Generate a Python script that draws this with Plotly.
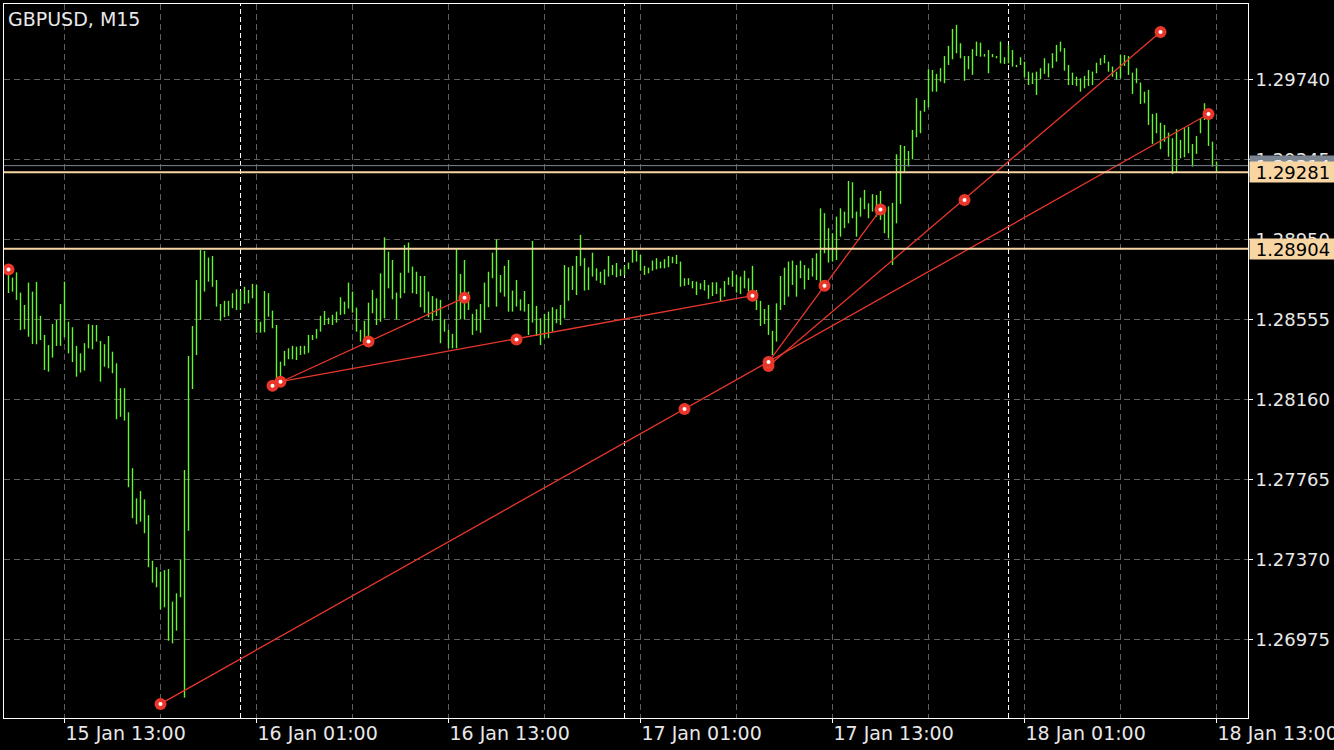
import pandas as pd
import plotly.graph_objects as go

# ---------------- data ----------------
symbol_title = "GBPUSD, M15"
first_bar = "2019-01-15 09:30"
bar_freq = "15min"

highs = [
    1.28809, 1.28761, 1.28787, 1.28687, 1.28626, 1.28736, 1.28692, 1.28740, 1.28572, 1.28478,
    1.28428, 1.28532, 1.28552, 1.28631, 1.28741, 1.28543, 1.28516, 1.28424, 1.28387, 1.28437,
    1.28531, 1.28527, 1.28527, 1.28448, 1.28432, 1.28473, 1.28395, 1.28338, 1.28215, 1.28215,
    1.28096, 1.27820, 1.27671, 1.27707, 1.27666, 1.27588, 1.27363, 1.27331, 1.27309, 1.27317,
    1.27322, 1.27161, 1.27202, 1.27370, 1.27811, 1.28374, 1.28522, 1.28749, 1.28898, 1.28893,
    1.28860, 1.28868, 1.28749, 1.28631, 1.28646, 1.28646, 1.28684, 1.28703, 1.28695, 1.28716,
    1.28700, 1.28730, 1.28725, 1.28543, 1.28695, 1.28684, 1.28598, 1.28527, 1.28346, 1.28399,
    1.28412, 1.28424, 1.28420, 1.28424, 1.28424, 1.28478, 1.28478, 1.28507, 1.28572, 1.28596,
    1.28563, 1.28577, 1.28593, 1.28664, 1.28642, 1.28736, 1.28692, 1.28613, 1.28503, 1.28548,
    1.28637, 1.28700, 1.28659, 1.28782, 1.28960, 1.28889, 1.28848, 1.28687, 1.28785, 1.28922,
    1.28934, 1.28815, 1.28790, 1.28769, 1.28769, 1.28692, 1.28670, 1.28659, 1.28651, 1.28555,
    1.28503, 1.28483, 1.28901, 1.28779, 1.28848, 1.28692, 1.28582, 1.28605, 1.28631, 1.28736,
    1.28790, 1.28884, 1.28950, 1.28774, 1.28819, 1.28848, 1.28697, 1.28749, 1.28654, 1.28695,
    1.28631, 1.28942, 1.28621, 1.28560, 1.28582, 1.28593, 1.28615, 1.28605, 1.28626, 1.28823,
    1.28812, 1.28819, 1.28868, 1.28972, 1.28857, 1.28812, 1.28884, 1.28807, 1.28790, 1.28802,
    1.28868, 1.28823, 1.28833, 1.28802, 1.28819, 1.28835, 1.28898, 1.28894, 1.28873, 1.28819,
    1.28810, 1.28845, 1.28857, 1.28840, 1.28852, 1.28868, 1.28864, 1.28873, 1.28840, 1.28758,
    1.28758, 1.28744, 1.28741, 1.28733, 1.28749, 1.28725, 1.28738, 1.28738, 1.28708, 1.28744,
    1.28763, 1.28795, 1.28774, 1.28766, 1.28795, 1.28758, 1.28819, 1.28700, 1.28646, 1.28606,
    1.28626, 1.28498, 1.28634, 1.28769, 1.28810, 1.28840, 1.28845, 1.28823, 1.28845, 1.28823,
    1.28807, 1.28857, 1.28881, 1.29103, 1.29079, 1.29005, 1.28980, 1.29062, 1.29103, 1.29087,
    1.29238, 1.29232, 1.29087, 1.29156, 1.29194, 1.29128, 1.29173, 1.29169, 1.29189, 1.29115,
    1.29113, 1.29130, 1.29370, 1.29416, 1.29411, 1.29386, 1.29490, 1.29647, 1.29585, 1.29638,
    1.29790, 1.29786, 1.29767, 1.29795, 1.29855, 1.29905, 1.29989, 1.30009, 1.29918, 1.29855,
    1.29855, 1.29889, 1.29926, 1.29921, 1.29865, 1.29885, 1.29865, 1.29855, 1.29926, 1.29849,
    1.29910, 1.29885, 1.29811, 1.29849, 1.29827, 1.29778, 1.29773, 1.29778, 1.29795, 1.29844,
    1.29819, 1.29869, 1.29910, 1.29926, 1.29894, 1.29811, 1.29773, 1.29753, 1.29745, 1.29757,
    1.29786, 1.29778, 1.29822, 1.29844, 1.29860, 1.29827, 1.29803, 1.29778, 1.29860, 1.29860,
    1.29855, 1.29773, 1.29795, 1.29724, 1.29679, 1.29688, 1.29569, 1.29573, 1.29526, 1.29515,
    1.29477, 1.29449, 1.29494, 1.29441, 1.29499, 1.29506, 1.29421, 1.29460, 1.29548, 1.29622,
    1.29573, 1.29432, 1.29334,
]

lows = [
    1.28685, 1.28692, 1.28651, 1.28502, 1.28506, 1.28469, 1.28433, 1.28432, 1.28453, 1.28305,
    1.28297, 1.28366, 1.28424, 1.28424, 1.28466, 1.28387, 1.28344, 1.28272, 1.28292, 1.28302,
    1.28412, 1.28407, 1.28445, 1.28247, 1.28321, 1.28313, 1.28289, 1.28062, 1.28074, 1.28055,
    1.27726, 1.27573, 1.27543, 1.27556, 1.27499, 1.27331, 1.27255, 1.27232, 1.27123, 1.27133,
    1.26968, 1.26955, 1.27018, 1.27183, 1.26687, 1.27511, 1.28211, 1.28379, 1.28552, 1.28692,
    1.28741, 1.28716, 1.28618, 1.28548, 1.28565, 1.28572, 1.28610, 1.28601, 1.28601, 1.28631,
    1.28634, 1.28659, 1.28489, 1.28489, 1.28491, 1.28568, 1.28511, 1.28247, 1.28256, 1.28325,
    1.28358, 1.28358, 1.28354, 1.28379, 1.28382, 1.28390, 1.28453, 1.28460, 1.28494, 1.28527,
    1.28531, 1.28527, 1.28539, 1.28577, 1.28580, 1.28608, 1.28588, 1.28494, 1.28445, 1.28456,
    1.28456, 1.28585, 1.28527, 1.28543, 1.28560, 1.28708, 1.28654, 1.28555, 1.28659, 1.28684,
    1.28785, 1.28684, 1.28680, 1.28615, 1.28588, 1.28565, 1.28548, 1.28572, 1.28437, 1.28494,
    1.28412, 1.28412, 1.28412, 1.28555, 1.28555, 1.28601, 1.28478, 1.28499, 1.28489, 1.28552,
    1.28615, 1.28758, 1.28618, 1.28687, 1.28667, 1.28593, 1.28593, 1.28618, 1.28598, 1.28593,
    1.28478, 1.28539, 1.28473, 1.28428, 1.28462, 1.28462, 1.28494, 1.28536, 1.28527, 1.28560,
    1.28647, 1.28700, 1.28675, 1.28819, 1.28697, 1.28700, 1.28766, 1.28746, 1.28733, 1.28725,
    1.28766, 1.28774, 1.28763, 1.28769, 1.28774, 1.28802, 1.28835, 1.28840, 1.28795, 1.28774,
    1.28782, 1.28795, 1.28802, 1.28807, 1.28807, 1.28812, 1.28832, 1.28828, 1.28716, 1.28720,
    1.28725, 1.28708, 1.28675, 1.28703, 1.28697, 1.28656, 1.28670, 1.28680, 1.28642, 1.28667,
    1.28725, 1.28716, 1.28687, 1.28680, 1.28708, 1.28692, 1.28670, 1.28601, 1.28522, 1.28532,
    1.28478, 1.28379, 1.28445, 1.28601, 1.28626, 1.28667, 1.28725, 1.28667, 1.28758, 1.28703,
    1.28749, 1.28766, 1.28749, 1.28725, 1.28881, 1.28835, 1.28840, 1.28848, 1.28963, 1.29005,
    1.29029, 1.29054, 1.28963, 1.29062, 1.29099, 1.29054, 1.29087, 1.29062, 1.29046, 1.28980,
    1.28955, 1.28823, 1.29029, 1.29125, 1.29284, 1.29309, 1.29345, 1.29454, 1.29474, 1.29580,
    1.29602, 1.29679, 1.29679, 1.29729, 1.29721, 1.29811, 1.29839, 1.29869, 1.29844, 1.29733,
    1.29790, 1.29762, 1.29855, 1.29852, 1.29852, 1.29770, 1.29849, 1.29844, 1.29819, 1.29816,
    1.29819, 1.29803, 1.29800, 1.29811, 1.29750, 1.29712, 1.29717, 1.29663, 1.29740, 1.29767,
    1.29750, 1.29795, 1.29827, 1.29877, 1.29783, 1.29712, 1.29712, 1.29707, 1.29679, 1.29696,
    1.29707, 1.29712, 1.29770, 1.29811, 1.29819, 1.29778, 1.29753, 1.29740, 1.29745, 1.29806,
    1.29762, 1.29668, 1.29721, 1.29618, 1.29622, 1.29515, 1.29421, 1.29474, 1.29395, 1.29432,
    1.29358, 1.29273, 1.29279, 1.29350, 1.29355, 1.29375, 1.29309, 1.29372, 1.29474, 1.29539,
    1.29411, 1.29309, 1.29284,
]

# trend lines: (times, prices) of their anchor dots
trend_lines = [
    (["2019-01-16 02:00", "2019-01-16 08:00", "2019-01-16 14:00"], [1.28227, 1.28445, 1.28662]),
    (["2019-01-16 02:30", "2019-01-16 17:15", "2019-01-17 08:00"], [1.28247, 1.28455, 1.28672]),
    (["2019-01-15 19:00", "2019-01-17 03:45", "2019-01-18 12:30"], [1.26656, 1.28112, 1.29569]),
    (["2019-01-17 09:00", "2019-01-17 21:15", "2019-01-18 09:30"], [1.28325, 1.29144, 1.29974]),
    (["2019-01-17 09:00", "2019-01-17 12:30", "2019-01-17 16:00"], [1.28344, 1.28721, 1.29097]),
    (["2019-01-15 09:30"], [1.28801]),
]

level_prices = [1.29281, 1.28904]
bid_price = 1.29314
day_breaks = ["2019-01-16 00:00", "2019-01-17 00:00", "2019-01-18 00:00"]

x_tick_vals = ["2019-01-15 13:00", "2019-01-16 01:00", "2019-01-16 13:00", "2019-01-17 01:00",
               "2019-01-17 13:00", "2019-01-18 01:00", "2019-01-18 13:00"]
x_tick_text = ["15 Jan 13:00", "16 Jan 01:00", "16 Jan 13:00", "17 Jan 01:00",
               "17 Jan 13:00", "18 Jan 01:00", "18 Jan 13:00"]
y_tick_vals = [1.26975, 1.27370, 1.27765, 1.28160, 1.28555, 1.28950, 1.29345, 1.29740]
y_tick_text = ["1.26975", "1.27370", "1.27765", "1.28160", "1.28555", "1.28950", "1.29345", "1.29740"]

x_range = ["2019-01-15 09:13:07.5", "2019-01-18 14:58:07.5"]
y_range = [1.265865, 1.301120]

# ---------------- styles ----------------
FONT = "DejaVu Sans"
BAR_GREEN = "#66f52c"
RED = "#e8372a"
GRID = "#5e5e5e"
LEVEL = "#f8d6a4"
BID = "#7a8591"
TEXT = "#e8e8e8"

times = pd.date_range(first_bar, periods=len(highs), freq=bar_freq)

bx, by = [], []
for t, h, l in zip(times, highs, lows):
    bx += [t, t, None]
    by += [l, h, None]

fig = go.Figure()
fig.add_trace(go.Scatter(x=bx, y=by, mode="lines",
                         line=dict(color=BAR_GREEN, width=1.4), hoverinfo="skip"))

for tx, ty in trend_lines:
    fig.add_trace(go.Scatter(x=[tx[0], tx[-1]], y=[ty[0], ty[-1]], mode="lines",
                             line=dict(color=RED, width=1.3), hoverinfo="skip"))
for tx, ty in trend_lines:
    fig.add_trace(go.Scatter(x=tx, y=ty, mode="markers",
                             marker=dict(color=RED, size=12, line=dict(width=0)), hoverinfo="skip"))
    fig.add_trace(go.Scatter(x=tx, y=ty, mode="markers",
                             marker=dict(color="white", size=4, line=dict(width=0)), hoverinfo="skip"))

shapes = []
for d in day_breaks:
    shapes.append(dict(type="line", xref="x", yref="paper", x0=d, x1=d, y0=0, y1=1,
                       line=dict(color="white", width=1, dash="5px,3px"), layer="below"))
shapes.append(dict(type="line", xref="paper", yref="y", x0=0, x1=1, y0=bid_price, y1=bid_price,
                   line=dict(color=BID, width=1)))
for p in level_prices:
    shapes.append(dict(type="line", xref="paper", yref="y", x0=0, x1=1, y0=p, y1=p,
                       line=dict(color=LEVEL, width=2)))

annotations = [
    dict(xref="paper", yref="y", x=1, y=bid_price, xanchor="left", yanchor="middle",
         xshift=1, text=" " + f"{bid_price:.5f}", showarrow=False, align="left",
         font=dict(family=FONT, size=18, color="#f0f0f0"), bgcolor=BID,
         width=86, height=20, borderpad=0),
]
for p in level_prices:
    annotations.append(dict(xref="paper", yref="y", x=1, y=p, xanchor="left", yanchor="middle",
                            xshift=1, text=" " + f"{p:.5f}", showarrow=False, align="left",
                            font=dict(family=FONT, size=18, color="#000000"), bgcolor=LEVEL,
                            width=86, height=20, borderpad=0))

fig.update_layout(
    width=1334, height=750,
    margin=dict(l=4, r=86, t=4, b=32, autoexpand=False),
    paper_bgcolor="#000000", plot_bgcolor="#000000",
    showlegend=False,
    title=dict(text=symbol_title, x=8 / 1334, xanchor="left", y=1 - 19 / 750, yanchor="middle",
               font=dict(family=FONT, size=19, color=TEXT)),
    shapes=shapes, annotations=annotations,
    hovermode=False,
)

fig.update_xaxes(
    type="date", range=x_range, automargin=False,
    tickvals=x_tick_vals, ticktext=x_tick_text,
    ticklabelposition="outside right", ticklabeloverflow="allow",
    ticklabelstandoff=-2,
    ticks="outside", ticklen=4, tickcolor="white", tickwidth=1,
    tickfont=dict(family=FONT, size=19, color=TEXT),
    showgrid=True, gridcolor=GRID, griddash="6px,4px", gridwidth=1,
    minor=dict(dtick=6 * 3600 * 1000, tick0="2019-01-15 13:00", showgrid=True,
               gridcolor=GRID, griddash="6px,4px", gridwidth=1, ticks=""),
    showline=True, linecolor="white", linewidth=1, mirror=True,
    zeroline=False, fixedrange=True,
)
fig.update_yaxes(
    side="right", range=y_range, automargin=False,
    tickvals=y_tick_vals, ticktext=y_tick_text,
    ticklabelstandoff=-1, ticklabeloverflow="allow",
    ticks="outside", ticklen=4, tickcolor="white", tickwidth=1,
    tickfont=dict(family=FONT, size=18, color=TEXT),
    showgrid=True, gridcolor=GRID, griddash="6px,4px", gridwidth=1,
    showline=True, linecolor="white", linewidth=1, mirror=True,
    zeroline=False, fixedrange=True,
)

fig.write_html("out.html", config={"displayModeBar": False},
               post_script="document.body.style.margin='0';document.body.style.background='#000';")
